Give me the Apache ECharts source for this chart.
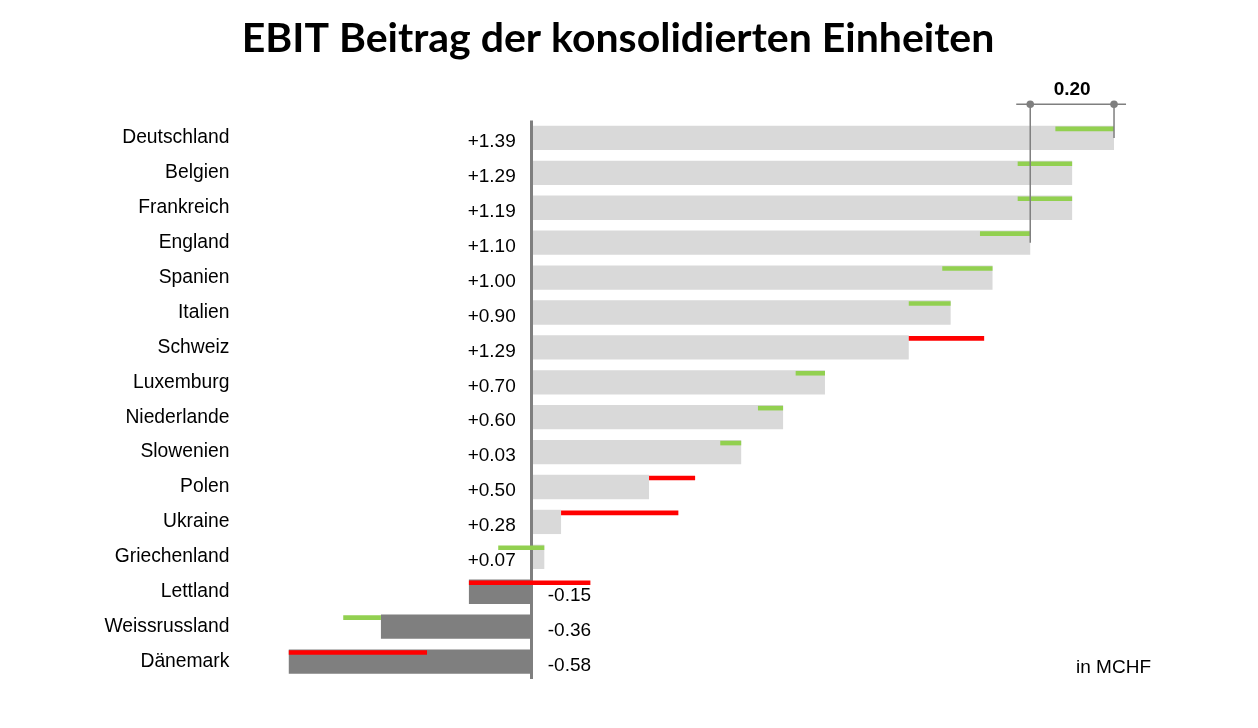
<!DOCTYPE html>
<html lang="de">
<head>
<meta charset="UTF-8">
<title>EBIT Beitrag der konsolidierten Einheiten</title>
<script src="https://cdn.jsdelivr.net/npm/echarts@6/dist/echarts.min.js"></script>
<style>
    html, body { margin: 0; padding: 0; background: #fff; }
    #main { width: 1258px; height: 728px; }
</style>
</head>
<body>
<div id="main"></div>
<script type="text/javascript">
    // Länder, Ist-Werte (Balken), Vorjahr (Ende der Abweichungslinie), Beschriftungen
    var countries = ['Deutschland', 'Belgien', 'Frankreich', 'England', 'Spanien', 'Italien', 'Schweiz',
        'Luxemburg', 'Niederlande', 'Slowenien', 'Polen', 'Ukraine', 'Griechenland', 'Lettland',
        'Weissrussland', 'Dänemark'];
    var current = [1.39, 1.29, 1.29, 1.19, 1.10, 1.00, 0.90, 0.70, 0.60, 0.50, 0.28, 0.07, 0.03, -0.15, -0.36, -0.58];
    var previous = [1.25, 1.16, 1.16, 1.07, 0.98, 0.90, 1.08, 0.63, 0.54, 0.45, 0.39, 0.35, -0.08, 0.14, -0.45, -0.25];
    var valueLabels = ['+1.39', '+1.29', '+1.19', '+1.10', '+1.00', '+0.90', '+1.29', '+0.70', '+0.60',
        '+0.03', '+0.50', '+0.28', '+0.07', '-0.15', '-0.36', '-0.58'];
    // Massstab oben rechts: Differenz zwischen zwei Balken
    var scaleRows = [3, 0];

    var font = 'Liberation Sans, Arial, sans-serif';
    var barH = 24.3;

    var barData = current.map(function (v, i) {
        return {
            value: v,
            itemStyle: { color: v >= 0 ? '#d9d9d9' : '#7f7f7f' },
            label: { position: v >= 0 ? 'left' : 'right' }
        };
    });

    var deltaData = current.map(function (v, i) {
        return [i, v, previous[i]];
    });

    function renderDelta(params, api) {
        var i = api.value(0);
        var a = api.coord([api.value(1), i]);
        var b = api.coord([api.value(2), i]);
        var top = a[1] - barH / 2 + 0.8;
        return {
            type: 'rect',
            shape: { x: Math.min(a[0], b[0]), y: top, width: Math.abs(a[0] - b[0]), height: 4.6 },
            style: { fill: api.value(1) >= api.value(2) ? '#92d050' : '#ff0000' }
        };
    }

    function renderScale(params, api) {
        var pA = api.coord([api.value(0), api.value(2)]);
        var pB = api.coord([api.value(1), api.value(3)]);
        var y = pB[1] - 33.7;
        var stroke = { stroke: '#7f7f7f', lineWidth: 1.5 };
        return {
            type: 'group',
            children: [
                { type: 'line', shape: { x1: pA[0] - 14, y1: y, x2: pB[0] + 12, y2: y }, style: stroke },
                { type: 'line', shape: { x1: pA[0], y1: y, x2: pA[0], y2: pA[1] }, style: stroke },
                { type: 'line', shape: { x1: pB[0], y1: y, x2: pB[0], y2: pB[1] }, style: stroke },
                { type: 'circle', shape: { cx: pA[0], cy: y, r: 3.8 }, style: { fill: '#7f7f7f' } },
                { type: 'circle', shape: { cx: pB[0], cy: y, r: 3.8 }, style: { fill: '#7f7f7f' } },
                {
                    type: 'text',
                    x: (pA[0] + pB[0]) / 2, y: y - 14,
                    style: {
                        text: (api.value(1) - api.value(0)).toFixed(2),
                        fontFamily: font, fontSize: 19, fontWeight: 'bold', fill: '#000',
                        align: 'center', verticalAlign: 'middle'
                    }
                }
            ]
        };
    }

    var chart = echarts.init(document.getElementById('main'));
    chart.setOption({
        backgroundColor: '#fff',
        animation: false,
        title: {
            text: 'EBIT Beitrag der konsolidierten Einheiten',
            left: 613,
            textAlign: 'center',
            top: 13,
            textStyle: { fontFamily: 'Lato, sans-serif', fontWeight: 'bold', fontSize: 41, color: '#000' }
        },
        graphic: [{
            type: 'text',
            right: 107,
            top: 658,
            style: { text: 'in MCHF', fontFamily: font, fontSize: 19, fill: '#000' }
        }],
        grid: { left: 280.4, right: 97.9, top: 120.5, bottom: 49 },
        xAxis: {
            type: 'value',
            min: -0.6,
            max: 1.5,
            show: false
        },
        yAxis: {
            type: 'category',
            data: countries,
            inverse: true,
            axisLine: { show: false },
            axisTick: { show: false },
            axisLabel: { margin: 51, fontFamily: font, fontSize: 19.3, color: '#000', padding: [3, 0, 0, 0] }
        },
        series: [{
            type: 'bar',
            data: barData,
            barWidth: barH,
            label: {
                show: true,
                distance: 16,
                offset: [0, 4],
                fontFamily: font,
                fontSize: 19,
                color: '#000',
                formatter: function (p) { return valueLabels[p.dataIndex]; }
            },
            markLine: {
                silent: true,
                symbol: 'none',
                label: { show: false },
                lineStyle: { color: '#7f7f7f', width: 3, type: 'solid' },
                data: [{ xAxis: 0 }]
            }
        }, {
            type: 'custom',
            renderItem: renderDelta,
            data: deltaData,
            encode: { x: [1, 2], y: 0 },
            z: 5
        }, {
            type: 'custom',
            renderItem: renderScale,
            clip: false,
            data: [[current[scaleRows[0]], current[scaleRows[1]], scaleRows[0], scaleRows[1]]],
            encode: { x: [0, 1], y: [2, 3] },
            z: 6
        }]
    });
</script>
</body>
</html>
